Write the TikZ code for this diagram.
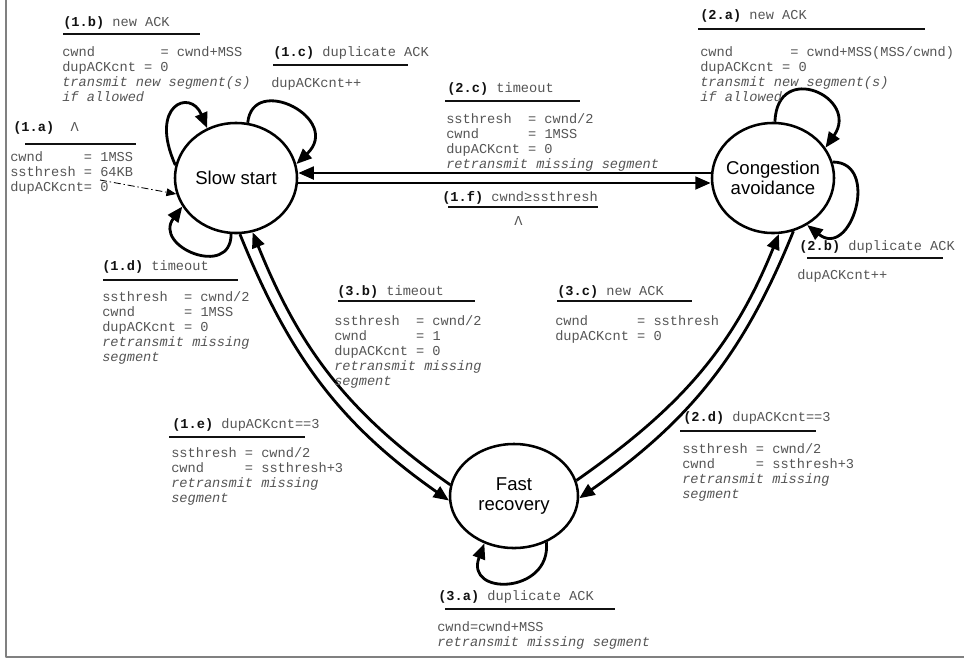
\documentclass[tikz,border=0pt]{standalone}
\usepackage{fontspec}
\setmonofont{Liberation Mono}
\setsansfont{Liberation Sans}
\usepackage{xcolor}
\usepackage{tikz}
\usetikzlibrary{arrows.meta,shapes.geometric,positioning}
\definecolor{ink}{HTML}{111111}
\definecolor{note}{HTML}{555555}
\definecolor{frame}{HTML}{808080}
\tikzset{
  state/.style={
    ellipse, draw, line width=1.8pt,
    minimum width=3.05cm, minimum height=2.75cm,
    inner xsep=-4pt, inner ysep=0pt, align=center,
    font=\sffamily\fontsize{13.2}{14.2}\selectfont
  },
  trans/.style={line width=2pt, -{Triangle[length=11pt,width=9pt]}},
  initarrow/.style={
    line width=0.6pt, dash pattern=on 5pt off 2pt on 1pt off 2pt,
    -{Triangle[length=7pt,width=5.5pt]}
  },
  head/.style={anchor=west, inner sep=0pt, text=note,
    font=\ttfamily\fontsize{9.7}{10.7}\selectfont},
  act/.style={anchor=north west, inner sep=0pt, align=left, text=note,
    font=\ttfamily\fontsize{9.7}{10.7}\selectfont},
  rule/.style={draw=ink, line width=0.8pt}
}
\newcommand{\TransHead}[7]{%
  % #1 = node name, #2 = x, #3 = y (centre), #4 = tag, #5 = event
  % #6 = start of the rule under it, #7 = rule length
  \node[head] (#1) at (#2,#3) {{\color{ink}\bfseries #4}~#5};
  \draw[rule] (#6) -- ++(#7,0);
}

\begin{document}
\begin{tikzpicture}[x=0.025cm, y=0.025cm, line join=round]
  \useasboundingbox (0,0) rectangle (964,-659);
  \draw[frame, line width=1.2pt] (6,0) -- (6,-657) -- (964,-657);

  % states
  \node[state] (ss) at (236,-178) {Slow start};
  \node[state] (ca) at (773,-178) {Congestion\\avoidance};
  \node[state, minimum width=3.2cm, minimum height=2.6cm] (fr) at (514,-496) {Fast\\recovery};
  \coordinate (init) at (100,-180);

  % self loops
  \draw[trans] (ss.168) .. controls +(-27,60) and +(-17,40) .. (ss.120);
  \draw[trans] (ss.78) .. controls +(5,50) and +(47,45) .. (ss.13);
  \draw[trans] (ss.-95) .. controls +(0,-45) and +(-30,-40) .. (ss.208);
  \draw[trans] (ca.88) .. controls +(2,62) and +(35,50) .. (ca.30);
  \draw[trans] (ca.15) .. controls +(48,0) and +(44,-35) .. (ca.-54);
  \draw[trans] (fr.-55) .. controls +(5,-52) and +(-20,-53) .. (fr.-122);

  % between states
  \draw[trans] ([yshift=0.125cm]ca.west) -- ([yshift=0.125cm]ss.east);
  \draw[trans] ([yshift=-0.125cm]ss.east) -- ([yshift=-0.125cm]ca.west);
  \draw[trans] (ss.-86) to[out=-68,in=145] (fr.184);
  \draw[trans] (fr.170) to[out=145,in=-68] (ss.-73);
  \draw[trans] (fr.14) to[out=35,in=-112] (ca.-84);
  \draw[trans] (ca.-69) to[out=-112,in=35] (fr.-2);
  \draw[initarrow] (init) -- (ss.195);

  % labels
  \TransHead{h1a}{13}{-128}{(1.a)}{~Λ}{25,-144}{111}
  \node[act] (a1a) at (10,-151) {cwnd~~~~~=~1MSS\\ssthresh~=~64KB\\dupACKcnt=~0};

  \TransHead{h1b}{63}{-23}{(1.b)}{new ACK}{63,-34}{137}
  \node[act] (a1b) at (62,-46) {cwnd~~~~~~~~=~cwnd+MSS\\dupACKcnt~=~0\\
    \textit{transmit new segment(s)}\\\textit{if allowed}};

  \TransHead{h1c}{273}{-53}{(1.c)}{duplicate ACK}{273,-65}{135}
  \node[act] (a1c) at (271,-77) {dupACKcnt++};

  \TransHead{h1d}{102}{-267}{(1.d)}{timeout}{103,-280}{135}
  \node[act] (a1d) at (102,-291) {ssthresh~~=~cwnd/2\\cwnd~~~~~~=~1MSS\\dupACKcnt~=~0\\
    \textit{retransmit missing}\\\textit{segment}};

  \TransHead{h1e}{172}{-425}{(1.e)}{dupACKcnt==3}{169,-437}{136}
  \node[act] (a1e) at (171,-447) {ssthresh~=~cwnd/2\\cwnd~~~~~=~ssthresh+3\\
    \textit{retransmit missing}\\\textit{segment}};

  \TransHead{h1f}{442}{-198}{(1.f)}{cwnd≥ssthresh}{448,-207}{150}
  \node[act] (a1f) at (514,-216) {Λ};

  \TransHead{h2a}{700}{-16}{(2.a)}{new ACK}{698,-29}{227}
  \node[act] (a2a) at (700,-46) {cwnd~~~~~~~=~cwnd+MSS(MSS/cwnd)\\dupACKcnt~=~0\\
    \textit{transmit new segment(s)}\\\textit{if allowed}};

  \TransHead{h2b}{799}{-247}{(2.b)}{duplicate ACK}{807,-258}{136}
  \node[act] (a2b) at (797,-269) {dupACKcnt++};

  \TransHead{h2c}{447}{-89}{(2.c)}{timeout}{445,-101}{135}
  \node[act] (a2c) at (446,-113) {ssthresh~~=~cwnd/2\\cwnd~~~~~~=~1MSS\\dupACKcnt~=~0\\
    \textit{retransmit missing segment}};

  \TransHead{h2d}{683}{-418}{(2.d)}{dupACKcnt==3}{680,-431}{136}
  \node[act] (a2d) at (682,-443) {ssthresh~=~cwnd/2\\cwnd~~~~~=~ssthresh+3\\
    \textit{retransmit missing}\\\textit{segment}};

  \TransHead{h3a}{438}{-597}{(3.a)}{duplicate ACK}{445,-609}{170}
  \node[act] (a3a) at (437,-621) {cwnd=cwnd+MSS\\\textit{retransmit missing segment}};

  \TransHead{h3b}{337}{-292}{(3.b)}{timeout}{338,-301}{137}
  \node[act] (a3b) at (334,-315) {ssthresh~~=~cwnd/2\\cwnd~~~~~~=~1\\dupACKcnt~=~0\\
    \textit{retransmit missing}\\\textit{segment}};

  \TransHead{h3c}{557}{-292}{(3.c)}{new ACK}{557,-301}{135}
  \node[act] (a3c) at (555,-315) {cwnd~~~~~~=~ssthresh\\dupACKcnt~=~0};
\end{tikzpicture}
\end{document}
